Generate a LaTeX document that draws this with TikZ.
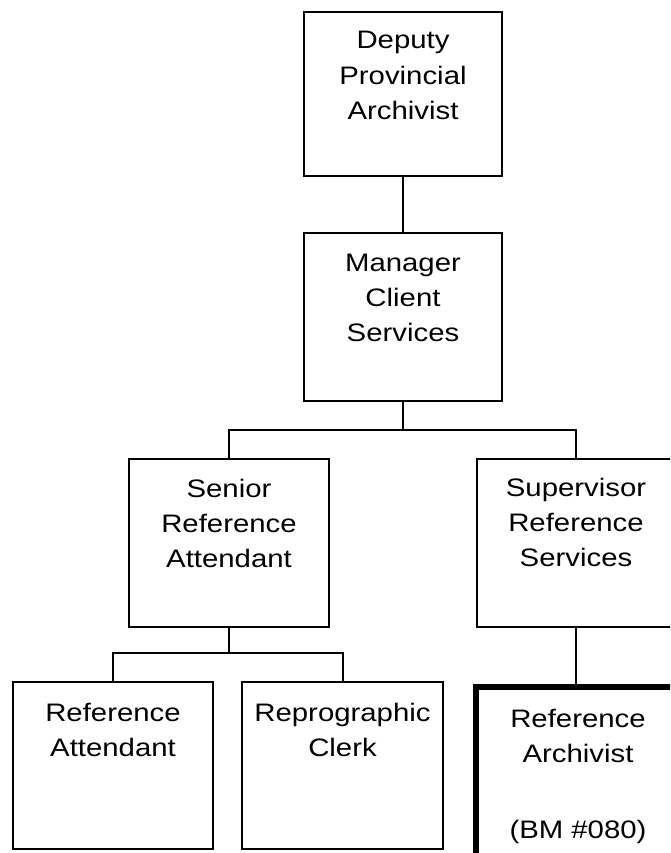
\documentclass[tikz,border=0pt]{standalone}
\usepackage{fontspec}
\setmainfont{Liberation Sans}[FakeStretch=1.16]
\newcommand\boxtxt[4][38pt]{\parbox[t][#3][t]{#2}{\centering\rule{0pt}{#1}#4\par}}
\tikzset{
  orgbox/.style={draw=black, line width=2pt, inner sep=0pt, anchor=north west,
    font=\fontsize{25.3pt}{35.3pt}\selectfont},
  thickbox/.style={orgbox, line width=6pt},
  link/.style={draw=black, line width=2pt}
}
\begin{document}
\begin{tikzpicture}[x=1pt,y=-1pt]
\fill[white] (0,0) rectangle (670,853);
\useasboundingbox (0,0) rectangle (670,853);
\clip (0,0) rectangle (670,853);
\node[orgbox] (dep) at (303,11) {\boxtxt[37pt]{198pt}{164pt}{Deputy\\Provincial\\Archivist}};
\node[orgbox] (mgr) at (303,232) {\boxtxt{198pt}{168pt}{Manager\\Client\\Services}};
\node[orgbox] (sen) at (128,458) {\boxtxt{200pt}{168pt}{Senior\\Reference\\Attendant}};
\node[orgbox] (sup) at (476,458) {\boxtxt[37pt]{198pt}{168pt}{Supervisor\\Reference\\Services}};
\node[orgbox] (att) at (12,681) {\boxtxt[39pt]{200pt}{167pt}{Reference\\Attendant}};
\node[orgbox] (rep) at (241,681) {\boxtxt[39pt]{201pt}{167pt}{Reprographic\\Clerk}};
\node[thickbox] (arc) at (473,684) {\boxtxt[40pt]{204pt}{172pt}{Reference\\Archivist\\[41pt](BM \#080)}};
\coordinate (b1) at (402,430);
\coordinate (b2) at (228,653);
\draw[link] (dep.south) -- (dep.south |- mgr.north);
\draw[link] (mgr.south) -- (mgr.south |- b1);
\draw[link] (sen.north) -- (sen.north |- b1) -- (sup.north |- b1) -- (sup.north);
\draw[link] (sen.south) -- (sen.south |- b2);
\draw[link] (att.north) -- (att.north |- b2) -- (rep.north |- b2) -- (rep.north);
\draw[link] (sup.south) -- (sup.south |- arc.north);
\end{tikzpicture}
\end{document}
